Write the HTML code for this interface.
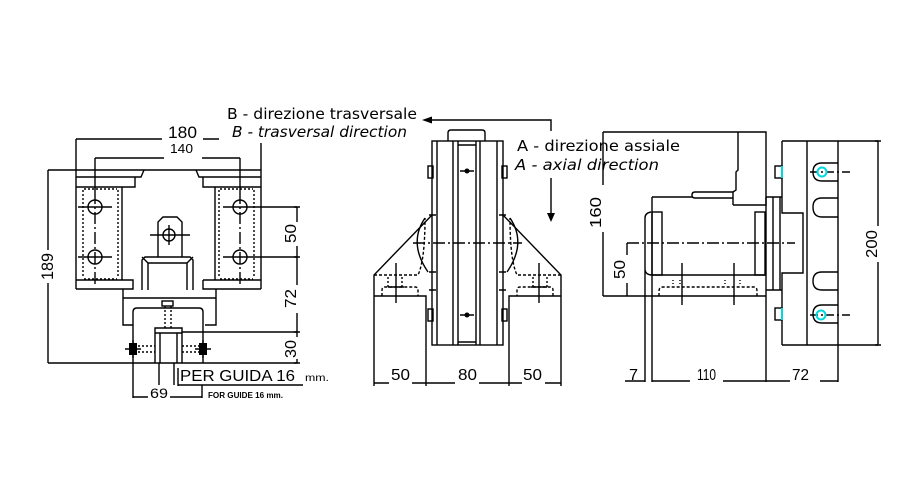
<!DOCTYPE html>
<html><head><meta charset="utf-8"><style>
html,body{margin:0;padding:0;background:#fff;}
svg{display:block;}
text{font-family:"DejaVu Sans","Liberation Sans",sans-serif;fill:#000;stroke:none;}
.d{font-family:"Liberation Sans",sans-serif;}
</style></head><body>
<svg width="900" height="500" viewBox="0 0 900 500" xmlns="http://www.w3.org/2000/svg">
<rect width="900" height="500" fill="#fff"/>
<g fill="none" stroke="#000" stroke-width="1.4">

<!-- ============ LEFT VIEW ============ -->
<path d="M76,139 H162 M203,139 H219"/>
<path d="M76,139 V289"/>
<path d="M261,143 V289"/>
<path d="M95,158 H164 M202,158 H240"/>
<path d="M95,158 V192 M240,158 V192"/>
<path d="M95,192 V285 M240,192 V285" stroke-dasharray="12,3,2,3"/>
<path d="M48,170 V250 M48,283 V363"/>
<path d="M48,170 H261"/>
<path d="M76,177 H141 L144,170 M196,170 L199,177 H261"/>
<path d="M76,187 H135 V177 M203,177 V187 H261"/>
<path d="M122,187 V280 M215,187 V280"/>
<path d="M83,190 V278 M118,190 V278 M219,190 V278 M254,190 V278 M84,189 H117 M220,189 H253 M84,279 H117 M220,279 H253" stroke-dasharray="2,2"/>
<path d="M76,280 H133 V289 H76 M203,280 H261 M203,280 V289 H261"/>
<circle cx="95" cy="207" r="7"/>
<circle cx="95" cy="257" r="7"/>
<circle cx="240" cy="207" r="7"/>
<circle cx="240" cy="257" r="7"/>
<path d="M78,207 H112 M78,257 H112 M223,207 H297 M223,257 H297"/>
<path d="M158,257 V222 L163,217 H177 L182,222 V257"/>
<circle cx="169" cy="235" r="6"/>
<path d="M150,235 H190 M169,225 V245"/>
<path d="M142,290 V260 L145,257 H190 L193,260 V290 M148,290 V263 H187 V290 M142,257 L148,263 M193,257 L187,263"/>
<path d="M123,289 V325 H133 M216,289 V325 H205"/>
<path d="M123,298 H216"/>
<rect x="162" y="301" width="11" height="5"/>
<path d="M165,306 V328 M171,306 V328" stroke-dasharray="2,2"/>
<path d="M133,363 V312 Q133,308 137,308 H199 Q203,308 203,312 V363"/>
<path d="M155,363 V328 H182 V363 M155,333 H182 M160,333 V363 M177,333 V363"/>
<path d="M138,346 H155 M138,352 H155 M182,346 H199 M182,352 H199" stroke-dasharray="2,2"/>
<path d="M182,332 H297"/>
<path d="M48,363 H297"/>
<path d="M297,207 V222 M297,246 V285 M297,313 V337 M297,359 V363"/>
<path d="M294,207 H300 M294,257 H300 M294,332 H300 M294,363 H300"/>
<path d="M133,363 V398 M159,363 V385 M174,363 V385 M178,368 V386 M178,385 H303 M202,385 V398 M133,397 H148 M170,397 H202"/>

<!-- ============ MIDDLE VIEW ============ -->
<path d="M432,120 H551 V131"/>
<path d="M551,178 V214"/>
<path d="M448,141 V133 Q448,130 451,130 H482 Q485,130 485,133 V141"/>
<rect x="432" y="141" width="71" height="204"/>
<path d="M437,141 V345 M453,141 V345 M458,141 V345 M476,141 V345 M480,141 V345 M497,141 V345"/>
<path d="M458,145 H476 M458,342 H476"/>
<path d="M460,171 H474 M460,315 H474"/>
<rect x="428" y="166" width="5" height="12"/>
<rect x="502" y="166" width="5" height="12"/>
<rect x="428" y="309" width="5" height="12"/>
<rect x="502" y="309" width="5" height="12"/>
<path d="M429,215 H436 M429,272 H436 M429,290 H436 M499,215 H506 M499,272 H506 M499,290 H506"/>
<path d="M432,215 L374,275 V386"/>
<path d="M374,296 H426 V386"/>
<path d="M374,275 H418 Q425,260 425,218" stroke-dasharray="3,2"/>
<path d="M425,218 Q408,243 428,272"/>
<path d="M382,296 V290 Q382,287 385,287 H415 Q418,287 418,290 V296" stroke-dasharray="3,2"/>
<path d="M396,263 V303 M388,287 H404"/>
<path d="M388,277 V287 M402,277 V287" stroke-dasharray="2,2"/>
<path d="M503,215 L561,275 V386"/>
<path d="M561,296 H509 V386"/>
<path d="M561,275 H517 Q510,260 510,218" stroke-dasharray="3,2"/>
<path d="M510,218 Q527,243 507,272"/>
<path d="M553,296 V290 Q553,287 550,287 H520 Q517,287 517,290 V296" stroke-dasharray="3,2"/>
<path d="M539,263 V303 M531,287 H547"/>
<path d="M547,277 V287 M533,277 V287" stroke-dasharray="2,2"/>
<path d="M413,243 H522" stroke-dasharray="12,3,2,3"/>
<path d="M374,383 H389 M412,383 H455 M479,383 H522 M545,383 H561"/>

<!-- ============ RIGHT VIEW ============ -->
<path d="M603,132 H766 V205 H733"/>
<path d="M738,132 V170 L736,172 V190 L733,192 V205"/>
<path d="M733,192 H695 Q692,192 692,195 Q692,198 695,198 H733"/>
<path d="M652,197 H692"/>
<path d="M652,197 V382 M645,218 V382"/>
<path d="M645,218 Q645,213 651,212 M645,270 Q646,275 652,275"/>
<rect x="652" y="212" width="10" height="63"/>
<rect x="755" y="212" width="10" height="63"/>
<path d="M652,275 H765"/>
<path d="M603,296 H766"/>
<path d="M659,296 V291 Q659,287 663,287 H754 Q757,287 757,291 V296" stroke-dasharray="3,2"/>
<path d="M673,280 V285 M680,280 V285 M725,280 V285 M740,280 V285" stroke-dasharray="1,2"/>
<path d="M682,263 V305 M734,263 V305"/>
<path d="M627,243 H795" stroke-dasharray="12,3,2,3"/>
<path d="M627,243 V255 M627,283 V296"/>
<path d="M603,132 V185 M603,232 V296"/>
<path d="M766,197 V382 M773,197 V290 M780,197 V290 M766,197 H782 M766,290 H782"/>
<path d="M782,141 V213 H803 V273 H782 V345"/>
<path d="M782,141 H878 M782,345 H878 M807,141 V345 M838,141 V382"/>
<path d="M838,163 H822 Q813,163 813,172 Q813,181 822,181 H838"/>
<path d="M838,198 H822 Q813,198 813,207 Q813,217 822,217 H838"/>
<path d="M838,272 H822 Q813,272 813,281 Q813,290 822,290 H838"/>
<path d="M838,305 H822 Q813,305 813,314 Q813,323 822,323 H838"/>
<path d="M810,172 H853 M810,315 H853" stroke-dasharray="8,3,2,3"/>
<rect x="775" y="166" width="7" height="12"/>
<rect x="775" y="308" width="7" height="12"/>
<path d="M878,141 V226 M878,262 V345"/>
<path d="M875,141 H881 M875,345 H881"/>
<path d="M625,381 H645 M652,381 H690 M723,381 H765 M765,381 H790 M820,381 H838"/>
</g>

<g fill="#000" stroke="none">
<polygon points="422,120 432,116.5 432,123.5"/>
<polygon points="551,222 547,213 555,213"/>
<circle cx="467" cy="171" r="2.5"/>
<circle cx="467" cy="315" r="2.5"/>
<rect x="129" y="343" width="8" height="12"/>
<rect x="199" y="343" width="8" height="12"/>
</g>
<g fill="none" stroke="#000" stroke-width="1.4">
<path d="M125,349 H141 M133,340 V358 M195,349 H211 M203,340 V358"/>
</g>
<g fill="none" stroke="#00d8e0" stroke-width="2">
<circle cx="822" cy="172" r="4.5"/>
<circle cx="821" cy="315" r="4.5"/>
<path d="M782,166 V178 M782,308 V320"/>
</g>

<!-- ============ TEXT ============ -->
<text x="227" y="119" font-size="15" textLength="190" lengthAdjust="spacingAndGlyphs">B - direzione trasversale</text>
<text x="232" y="137" font-size="15" font-style="italic" textLength="175" lengthAdjust="spacingAndGlyphs">B - trasversal direction</text>
<text x="517" y="151" font-size="15" textLength="163" lengthAdjust="spacingAndGlyphs">A - direzione assiale</text>
<text x="515" y="170" font-size="15" font-style="italic" textLength="144" lengthAdjust="spacingAndGlyphs">A - axial direction</text>

<text class="d" x="168" y="138" font-size="17" textLength="29" lengthAdjust="spacingAndGlyphs">180</text>
<text class="d" x="170" y="153" font-size="13" textLength="23" lengthAdjust="spacingAndGlyphs">140</text>
<text class="d" font-size="17" textLength="27" lengthAdjust="spacingAndGlyphs" transform="translate(53,280) rotate(-90)">189</text>
<text class="d" font-size="16" textLength="19" lengthAdjust="spacingAndGlyphs" transform="translate(296,243) rotate(-90)">50</text>
<text class="d" font-size="16" textLength="19" lengthAdjust="spacingAndGlyphs" transform="translate(296,308) rotate(-90)">72</text>
<text class="d" font-size="16" textLength="18" lengthAdjust="spacingAndGlyphs" transform="translate(296,358) rotate(-90)">30</text>
<text class="d" x="180" y="381" font-size="16" textLength="115" lengthAdjust="spacingAndGlyphs">PER GUIDA 16</text>
<text class="d" x="305" y="381" font-size="10" textLength="24" lengthAdjust="spacingAndGlyphs">mm.</text>
<text class="d" x="150" y="398" font-size="14" textLength="18" lengthAdjust="spacingAndGlyphs">69</text>
<text class="d" x="208" y="398" font-size="8" font-weight="bold" textLength="75" lengthAdjust="spacingAndGlyphs">FOR GUIDE 16 mm.</text>

<text class="d" x="391" y="380" font-size="16" textLength="19" lengthAdjust="spacingAndGlyphs">50</text>
<text class="d" x="458" y="380" font-size="16" textLength="19" lengthAdjust="spacingAndGlyphs">80</text>
<text class="d" x="523" y="380" font-size="16" textLength="19" lengthAdjust="spacingAndGlyphs">50</text>

<text class="d" font-size="16" textLength="31" lengthAdjust="spacingAndGlyphs" transform="translate(601,228) rotate(-90)">160</text>
<text class="d" font-size="16" textLength="19" lengthAdjust="spacingAndGlyphs" transform="translate(625,279) rotate(-90)">50</text>
<text class="d" font-size="16" textLength="28" lengthAdjust="spacingAndGlyphs" transform="translate(877,258) rotate(-90)">200</text>
<text class="d" x="629" y="380" font-size="16" textLength="9" lengthAdjust="spacingAndGlyphs">7</text>
<text class="d" x="697" y="380" font-size="16" textLength="19" lengthAdjust="spacingAndGlyphs">110</text>
<text class="d" x="792" y="380" font-size="16" textLength="17" lengthAdjust="spacingAndGlyphs">72</text>
</svg>
</body></html>
